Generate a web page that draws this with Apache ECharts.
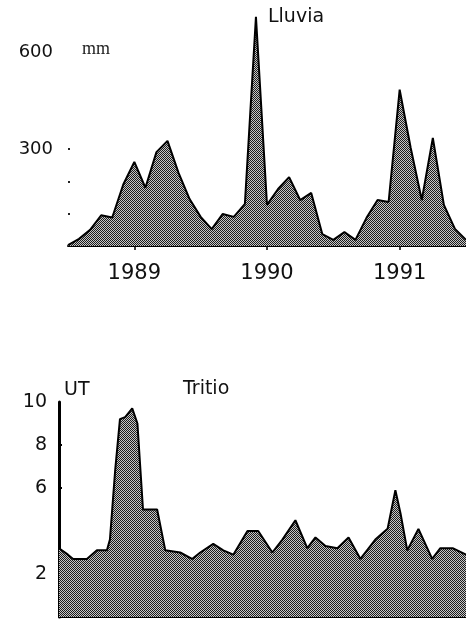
<!DOCTYPE html>
<html>
<head>
<meta charset="utf-8">
<script src="https://cdn.jsdelivr.net/npm/echarts@6/dist/echarts.min.js"></script>
<style>
  html, body { margin: 0; padding: 0; background: #fff; }
  #grafico { width: 466px; height: 619px; }
</style>
</head>
<body>
<div id="grafico"></div>
<script>
// Lluvia mensual (mm), julio 1988 - julio 1991
const meses = [
  '1988-07','1988-08','1988-09','1988-10','1988-11','1988-12',
  '1989-01','1989-02','1989-03','1989-04','1989-05','1989-06',
  '1989-07','1989-08','1989-09','1989-10','1989-11','1989-12',
  '1990-01','1990-02','1990-03','1990-04','1990-05','1990-06',
  '1990-07','1990-08','1990-09','1990-10','1990-11','1990-12',
  '1991-01','1991-02','1991-03','1991-04','1991-05','1991-06',
  '1991-07'
];
const lluviaMm = [
  3, 22, 50, 95, 88, 190,
  260, 180, 290, 325, 226, 145,
  90, 52, 99, 90, 130, 708,
  127, 176, 213, 142, 164, 37,
  19, 43, 19, 87, 142, 136,
  483, 303, 142, 334, 127, 53,
  19
];

// Tritio en unidades de tritio (UT), por fecha de muestreo
const tritioFechas = [
  '1988-07-01','1988-07-25','1988-08-08','1988-09-14','1988-10-11','1988-11-07',
  '1988-11-15','1988-11-29','1988-12-12','1988-12-26','1989-01-14','1989-01-28',
  '1989-02-12','1989-03-22','1989-04-13','1989-05-23','1989-06-24','1989-07-16',
  '1989-08-20','1989-09-16','1989-10-13','1989-11-20','1989-12-19','1990-01-26',
  '1990-02-22','1990-03-29','1990-04-30','1990-05-22','1990-06-18','1990-07-20',
  '1990-08-19','1990-09-20','1990-10-30','1990-12-02','1990-12-23','1991-01-06',
  '1991-01-24','1991-02-23','1991-04-01','1991-04-23','1991-05-26','1991-07-01'
];
const tritioUT = [
  3.2, 2.9, 2.7, 2.7, 3.1, 3.1,
  3.6, 6.8, 9.2, 9.3, 9.7, 9.0,
  5.0, 5.0, 3.1, 3.0, 2.7, 3.0,
  3.4, 3.1, 2.9, 4.0, 4.0, 3.0,
  3.6, 4.5, 3.2, 3.7, 3.3, 3.2,
  3.7, 2.7, 3.6, 4.1, 5.9, 4.8,
  3.1, 4.1, 2.7, 3.2, 3.2, 2.9
];

// Etiquetas de los ejes
const etiquetasLluvia = [300, 600];
const marcasLluvia = [100, 200, 300];
const etiquetasTritio = [2, 6, 8, 10];
const marcasTritio = [6, 8];

// Trama de puntos para el relleno de las áreas
function trama() {
  const c = document.createElement('canvas');
  c.width = 2; c.height = 2;
  const g = c.getContext('2d');
  g.fillStyle = '#c6c6c6';
  g.fillRect(0, 0, 2, 2);
  g.fillStyle = '#1c1c1c';
  g.fillRect(0, 0, 1, 1);
  g.fillRect(1, 1, 1, 1);
  return c;
}
const relleno = { image: trama(), repeat: 'repeat' };

const fuente = 'DejaVu Sans';
const chart = echarts.init(document.getElementById('grafico'), null, { renderer: 'canvas' });

chart.setOption({
  animation: false,
  backgroundColor: '#ffffff',
  grid: [
    { left: 68, right: 0, top: 13, bottom: 373, containLabel: false, outerBoundsMode: 'none' },
    { left: 59, right: 0, top: 402, bottom: 2, containLabel: false, outerBoundsMode: 'none' }
  ],
  xAxis: [
    {
      gridIndex: 0,
      type: 'category',
      data: meses,
      boundaryGap: false,
      axisLine: { show: true, lineStyle: { color: '#000', width: 2 } },
      axisTick: {
        show: true, length: 4,
        interval: (i, v) => v.endsWith('-01'),
        lineStyle: { color: '#000', width: 1.5 }
      },
      axisLabel: {
        interval: (i, v) => v.endsWith('-01'),
        formatter: v => v.slice(0, 4),
        margin: 17,
        fontFamily: fuente, fontSize: 21, color: '#111'
      },
      splitLine: { show: false }
    },
    {
      gridIndex: 1,
      type: 'time',
      min: '1988-07-01',
      max: '1991-07-01',
      axisLine: { show: true, lineStyle: { color: '#000', width: 2 } },
      axisTick: { show: false },
      axisLabel: { show: false },
      splitLine: { show: false }
    }
  ],
  yAxis: [
    {
      gridIndex: 0,
      type: 'value',
      min: 0, max: 720,
      axisLine: { show: false },
      axisTick: {
        show: true, inside: true, length: 2,
        customValues: marcasLluvia,
        lineStyle: { color: '#222', width: 2 }
      },
      axisLabel: {
        customValues: etiquetasLluvia,
        margin: 15,
        fontFamily: fuente, fontSize: 18, color: '#111'
      },
      splitLine: { show: false }
    },
    {
      gridIndex: 1,
      type: 'value',
      min: 0, max: 10,
      axisLine: { show: true, lineStyle: { color: '#000', width: 3 } },
      axisTick: {
        show: true, inside: true, length: 3,
        customValues: marcasTritio,
        lineStyle: { color: '#000', width: 2 }
      },
      axisLabel: {
        customValues: etiquetasTritio,
        margin: 12,
        fontFamily: fuente, fontSize: 19, color: '#111'
      },
      splitLine: { show: false }
    }
  ],
  series: [
    {
      name: 'Lluvia',
      type: 'line',
      xAxisIndex: 0, yAxisIndex: 0,
      data: lluviaMm,
      symbol: 'none',
      lineStyle: { color: '#000', width: 2 },
      areaStyle: { color: relleno, opacity: 1 }
    },
    {
      name: 'Tritio',
      type: 'line',
      xAxisIndex: 1, yAxisIndex: 1,
      data: tritioFechas.map((f, i) => [f, tritioUT[i]]),
      symbol: 'none',
      lineStyle: { color: '#000', width: 2 },
      areaStyle: { color: relleno, opacity: 1 }
    }
  ],
  graphic: [
    { type: 'text', left: 268, top: 8, style: { text: 'Lluvia', font: '19px "DejaVu Sans"', fill: '#111' } },
    { type: 'text', left: 82, top: 40, style: { text: 'mm', font: '18px "Liberation Serif"', fill: '#222' } },
    { type: 'text', left: 64, top: 381, style: { text: 'UT', font: '19px "DejaVu Sans"', fill: '#111' } },
    { type: 'text', left: 183, top: 380, style: { text: 'Tritio', font: '19px "DejaVu Sans"', fill: '#111' } }
  ]
});
</script>
</body>
</html>
